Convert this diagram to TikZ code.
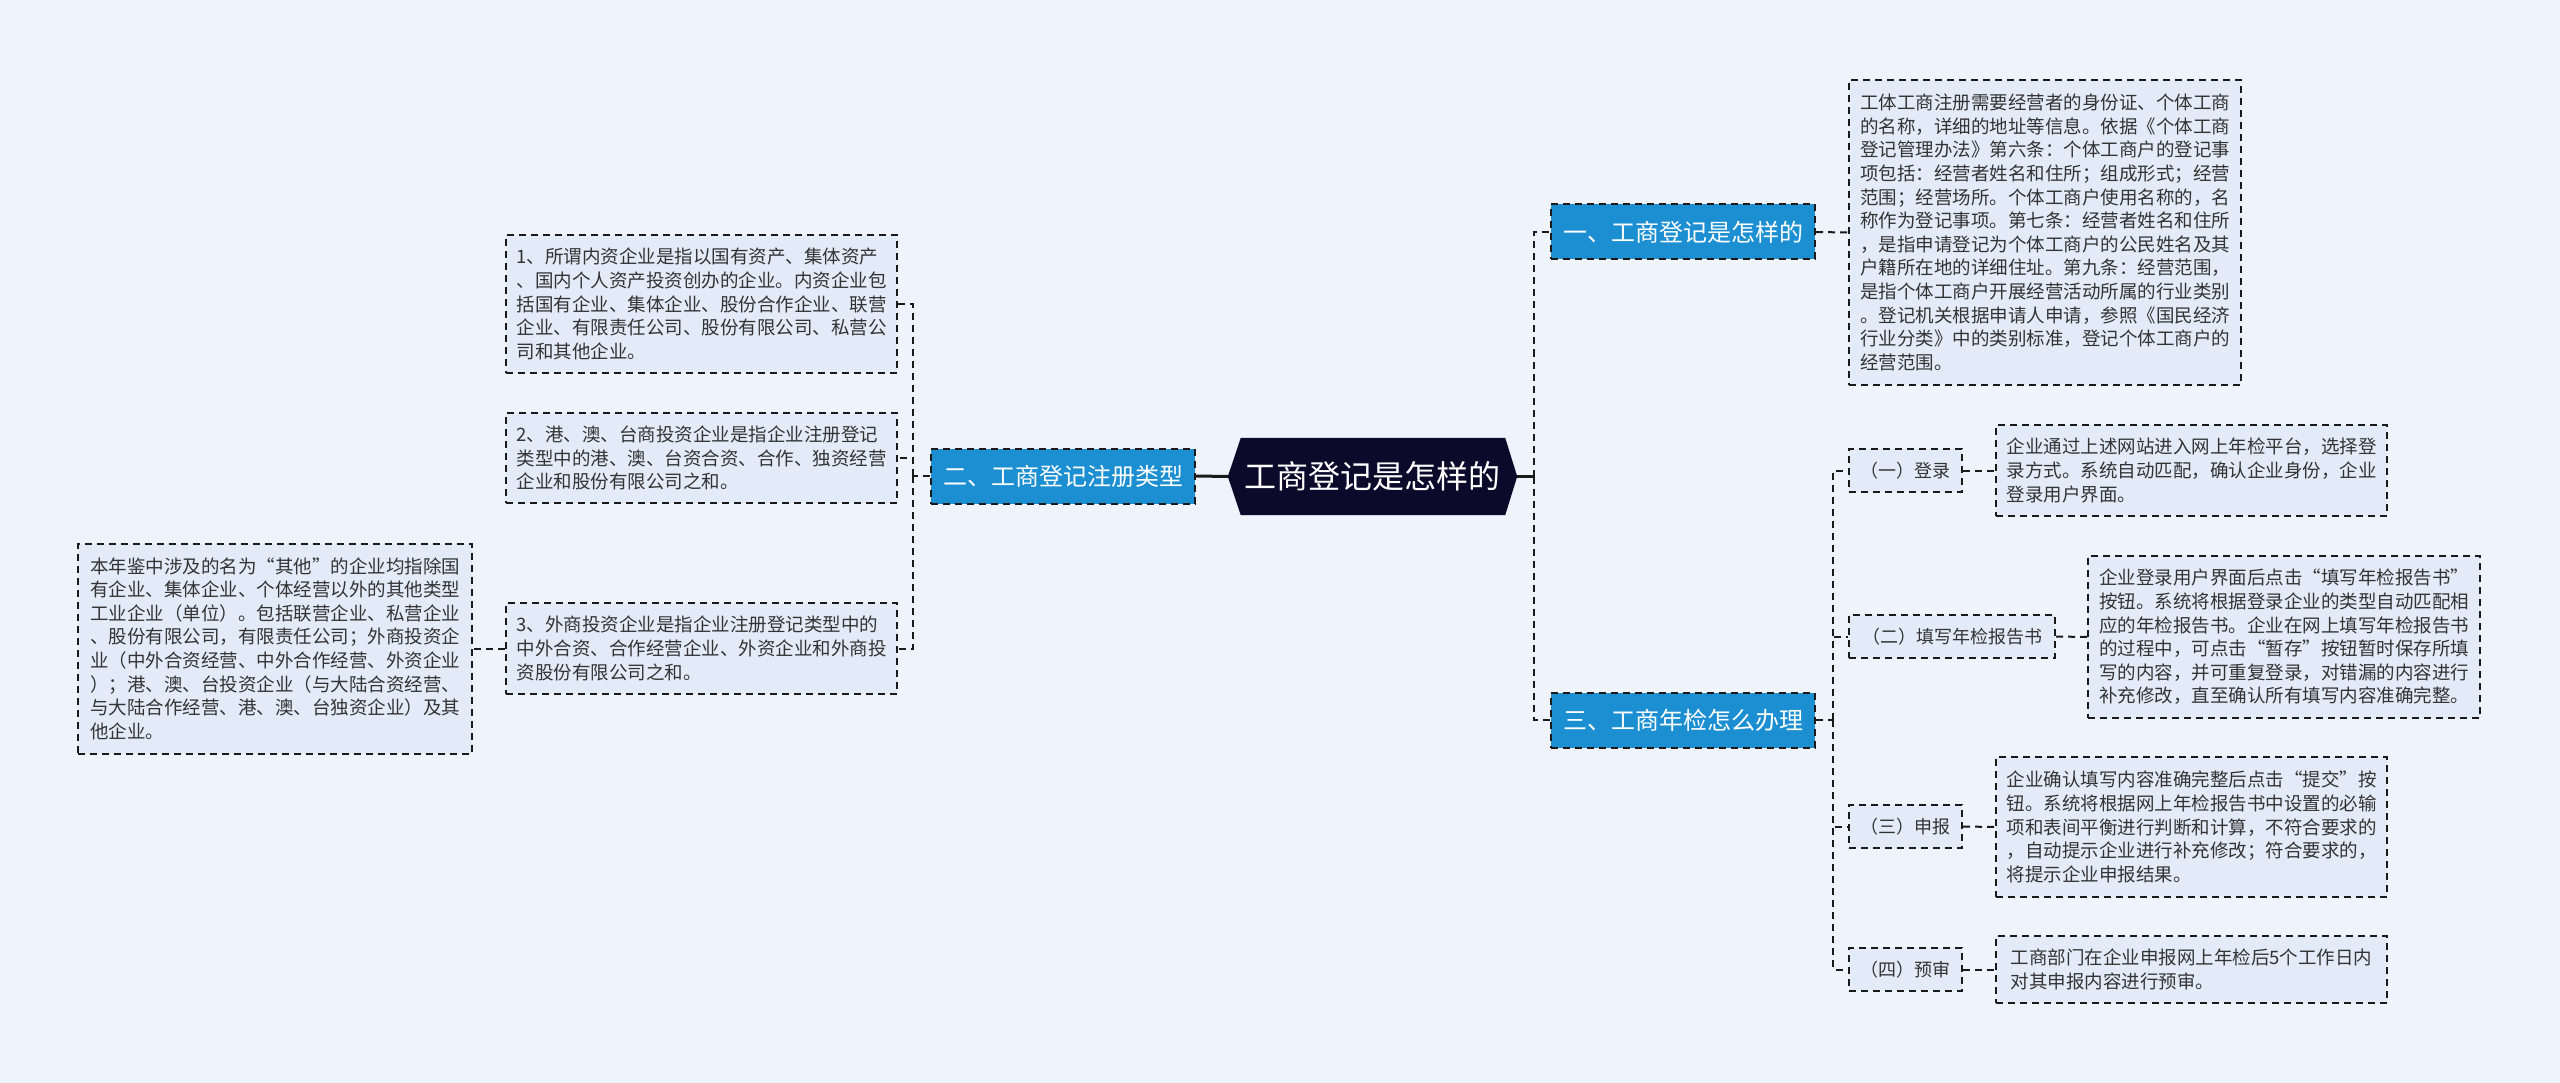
\documentclass[tikz,border=0pt]{standalone}
\usepackage{fontspec}
\setmainfont{Noto Sans CJK SC}
\usetikzlibrary{calc}
\pgfdeclarelayer{bg}
\pgfsetlayers{bg,main}
\definecolor{bgc}{HTML}{EEF3FC}
\definecolor{boxc}{HTML}{E3EBF9}
\definecolor{bluec}{HTML}{1C8FD3}
\definecolor{navyc}{HTML}{0C0A2A}
\definecolor{linec}{HTML}{1A1A1A}
\definecolor{txtc}{HTML}{333333}
\tikzset{
  dsh/.style={draw=linec, line width=2pt, dash pattern=on 7pt off 5pt},
  detail/.style={dsh, fill=boxc, inner sep=0pt, align=left, text=txtc,
    font=\fontsize{18.5pt}{23.6pt}\selectfont},
  subnode/.style={dsh, fill=boxc, inner sep=0pt, align=center, text=txtc,
    minimum height=43pt, font=\fontsize{18pt}{22pt}\selectfont},
  branch/.style={dsh, fill=bluec, inner sep=0pt, text=white, minimum width=264pt,
    minimum height=55pt, font=\fontsize{24pt}{28pt}\selectfont},
  rootnode/.style={inner sep=0pt, text=white, minimum width=289pt, minimum height=77pt,
    font=\fontsize{32pt}{36pt}\selectfont},
  conn/.style={dsh},
  solidconn/.style={draw=linec, line width=3pt}
}
\begin{document}
\begin{tikzpicture}[x=1pt,y=-1pt]
\useasboundingbox (0,0) rectangle (2560,1083);
\begin{pgfonlayer}{bg}
\fill[bgc] (0,0) rectangle (2560,1083);
\end{pgfonlayer}

% root
\node[rootnode] (c) at (1372.5,476.5) {工商登记是怎样的};
\begin{pgfonlayer}{bg}
\fill[navyc] (c.west) -- ($(c.north west)+(13,0)$) -- ($(c.north east)+(-12,0)$) -- (c.east)
  -- ($(c.south east)+(-12,0)$) -- ($(c.south west)+(13,0)$) -- cycle;
\end{pgfonlayer}

% branches
\node[branch] (b1) at (1683,232) {一、工商登记是怎样的};
\node[branch] (b2) at (1063,476) {二、工商登记注册类型};
\node[branch] (b3) at (1683,720) {三、工商年检怎么办理};

% top detail
\node[detail, minimum width=392pt, minimum height=305pt] (d0) at (2045,232.5) {工体工商注册需要经营者的身份证、个体工商\\
的名称，详细的地址等信息。依据《个体工商\\
登记管理办法》第六条：个体工商户的登记事\\
项包括：经营者姓名和住所；组成形式；经营\\
范围；经营场所。个体工商户使用名称的，名\\
称作为登记事项。第七条：经营者姓名和住所\\
，是指申请登记为个体工商户的公民姓名及其\\
户籍所在地的详细住址。第九条：经营范围，\\
是指个体工商户开展经营活动所属的行业类别\\
。登记机关根据申请人申请，参照《国民经济\\
行业分类》中的类别标准，登记个体工商户的\\
经营范围。};

% left side
\node[detail, minimum width=391pt, minimum height=138pt] (l1) at (701.5,304) {1、所谓内资企业是指以国有资产、集体资产\\
、国内个人资产投资创办的企业。内资企业包\\
括国有企业、集体企业、股份合作企业、联营\\
企业、有限责任公司、股份有限公司、私营公\\
司和其他企业。};
\node[detail, minimum width=391pt, minimum height=90pt] (l2) at (701.5,458) {2、港、澳、台商投资企业是指企业注册登记\\
类型中的港、澳、台资合资、合作、独资经营\\
企业和股份有限公司之和。};
\node[detail, minimum width=391pt, minimum height=91pt] (l3) at (701.5,648.5) {3、外商投资企业是指企业注册登记类型中的\\
中外合资、合作经营企业、外资企业和外商投\\
资股份有限公司之和。};
\node[detail, minimum width=394pt, minimum height=210pt] (fl) at (275,648.5) {本年鉴中涉及的名为“其他”的企业均指除国\\
有企业、集体企业、个体经营以外的其他类型\\
工业企业（单位）。包括联营企业、私营企业\\
、股份有限公司，有限责任公司；外商投资企\\
业（中外合资经营、中外合作经营、外资企业\\
）；港、澳、台投资企业（与大陆合资经营、\\
与大陆合作经营、港、澳、台独资企业）及其\\
他企业。};

% right lower side
\node[subnode, minimum width=113pt] (s1) at (1905.5,470.5) {（一）登录};
\node[subnode, minimum width=206pt] (s2) at (1952,636.5) {（二）填写年检报告书};
\node[subnode, minimum width=113pt] (s3) at (1905.5,826.5) {（三）申报};
\node[subnode, minimum width=113pt] (s4) at (1905.5,969.5) {（四）预审};

\node[detail, minimum width=391pt, minimum height=91pt] (d1) at (2191.5,470.5) {企业通过上述网站进入网上年检平台，选择登\\
录方式。系统自动匹配，确认企业身份，企业\\
登录用户界面。};
\node[detail, minimum width=392pt, minimum height=162pt] (d2) at (2284,637) {企业登录用户界面后点击“填写年检报告书”\\
按钮。系统将根据登录企业的类型自动匹配相\\
应的年检报告书。企业在网上填写年检报告书\\
的过程中，可点击“暂存”按钮暂时保存所填\\
写的内容，并可重复登录，对错漏的内容进行\\
补充修改，直至确认所有填写内容准确完整。};
\node[detail, minimum width=391pt, minimum height=140pt] (d3) at (2191.5,827) {企业确认填写内容准确完整后点击“提交”按\\
钮。系统将根据网上年检报告书中设置的必输\\
项和表间平衡进行判断和计算，不符合要求的\\
，自动提示企业进行补充修改；符合要求的，\\
将提示企业申报结果。};
\node[detail, minimum width=391pt, minimum height=67pt] (d4) at (2191.5,969.5) {工商部门在企业申报网上年检后5个工作日内\\
对其申报内容进行预审。};

% junction coordinates
\coordinate (rj) at (1534,476.5);
\coordinate (lj) at (913,476);
\coordinate (rj2) at (1833,720);

% connectors
\draw[solidconn] (c.east) -- (rj);
\draw[conn] (rj) |- (b1.west);
\draw[conn] (rj) |- (b3.west);
\draw[solidconn] (c.west) -- (b2.east);
\draw[conn] (b1.east) -- (d0.west);

\draw[conn] (b2.west) -- (lj);
\draw[conn] (lj) |- (l1.east);
\draw[conn] (lj) |- (l2.east);
\draw[conn] (lj) |- (l3.east);
\draw[conn] (l3.west) -- (fl.east);

\draw[conn] (b3.east) -- (rj2);
\draw[conn] (rj2) |- (s1.west);
\draw[conn] (rj2) |- (s2.west);
\draw[conn] (rj2) |- (s3.west);
\draw[conn] (rj2) |- (s4.west);
\draw[conn] (s1.east) -- (d1.west);
\draw[conn] (s2.east) -- (d2.west);
\draw[conn] (s3.east) -- (d3.west);
\draw[conn] (s4.east) -- (d4.west);
\end{tikzpicture}
\end{document}
